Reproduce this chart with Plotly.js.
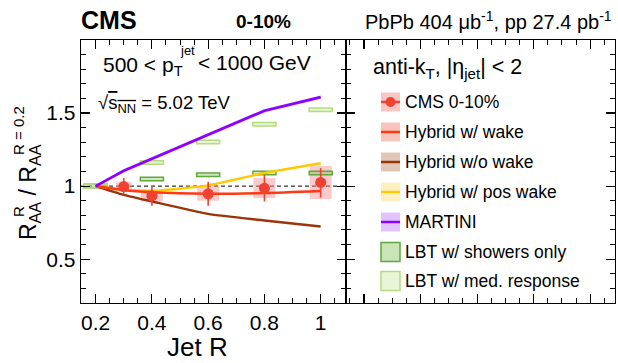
<!DOCTYPE html>
<html><head><meta charset="utf-8">
<script src="https://cdn.plot.ly/plotly-3.0.1.min.js"></script>
<style>body{margin:0;background:#fff}#chart{width:618px;height:363px}</style>
</head><body><div id="chart"></div>
<script>
// ---- data ----
const R_cms = [0.3, 0.4, 0.6, 0.8, 1.0];
const cms_val = [0.997, 0.934, 0.947, 0.986, 1.025];
const cms_stat_hi = [1.055, 0.997, 1.030, 1.077, 1.123];
const cms_stat_lo = [0.940, 0.865, 0.865, 0.895, 0.922];
const cms_sys_hi = [1.030, 0.975, 1.002, 1.055, 1.139];
const cms_sys_lo = [0.963, 0.895, 0.900, 0.918, 0.911];
const cms_sys_width = [0.056, 0.078, 0.078, 0.078, 0.078];

const R_model = [0.2, 0.3, 0.4, 0.6, 0.8, 1.0];
const hybrid_wake = [1.0, 0.972, 0.958, 0.948, 0.953, 0.967];
const hybrid_nowake = [1.0, 0.940, 0.895, 0.810, 0.765, 0.723];
const hybrid_poswake = [1.0, 0.975, 0.968, 1.005, 1.090, 1.157];
const martini = [1.0, 1.105, 1.187, 1.351, 1.516, 1.609];
const martini_unc = [0.0, 0.010, 0.012, 0.012, 0.012, 0.012];

const R_lbt = [0.2, 0.4, 0.6, 0.8, 1.0];
const lbt_showers = [1.0, 1.048, 1.077, 1.089, 1.089];
const lbt_medresp = [1.0, 1.162, 1.302, 1.424, 1.523];
const lbt_unc = [0.012, 0.012, 0.012, 0.012, 0.012];
const lbt_width = 0.082;

const xTicks = [0.2, 0.4, 0.6, 0.8, 1.0];
const xTickText = ['0.2', '0.4', '0.6', '0.8', '1'];
const yTicks = [0.5, 1.0, 1.5];
const yTickText = ['0.5', '1', '1.5'];

// ---- helpers ----
const W = 618, H = 363;
const FONT = 'Liberation Sans, Arial, Helvetica, sans-serif';
const px = x => x / W, py = y => 1 - y / H;

const traces = [];
// CMS systematic boxes
traces.push({type: 'bar', x: R_cms, base: cms_sys_lo,
  y: cms_sys_hi.map((h, i) => h - cms_sys_lo[i]), width: cms_sys_width,
  marker: {color: 'rgba(245,140,140,0.45)', line: {width: 0}},
  xaxis: 'x', yaxis: 'y', hoverinfo: 'skip', showlegend: false});
// MARTINI band
traces.push({type: 'scatter', mode: 'lines', x: R_model, y: martini.map((v, i) => v + martini_unc[i]),
  line: {width: 0, color: 'rgba(0,0,0,0)'}, showlegend: false, hoverinfo: 'skip'});
traces.push({type: 'scatter', mode: 'lines', x: R_model, y: martini.map((v, i) => v - martini_unc[i]),
  fill: 'tonexty', fillcolor: 'rgba(190,130,255,0.45)',
  line: {width: 0, color: 'rgba(0,0,0,0)'}, showlegend: false, hoverinfo: 'skip'});
// model lines
const lineDefs = [
  [hybrid_nowake, '#9b3508', 2.5, 'spline'],
  [hybrid_poswake, '#ffc800', 2.5, 'spline'],
  [hybrid_wake, '#ff3a12', 2.5, 'spline'],
  [martini, '#8c00ff', 2.8, 'linear']
];
lineDefs.forEach(([y, c, w, s]) => traces.push({type: 'scatter', mode: 'lines', x: R_model, y: y,
  line: {color: c, width: w, shape: s, smoothing: 0.6}, showlegend: false, hoverinfo: 'skip'}));
// LBT boxes
traces.push({type: 'bar', x: R_lbt, base: lbt_showers.map((v, i) => v - lbt_unc[i]),
  y: lbt_unc.map(u => 2 * u), width: lbt_width,
  marker: {color: 'rgba(120,190,90,0.35)', line: {color: '#5fa83a', width: 1.5}},
  showlegend: false, hoverinfo: 'skip'});
traces.push({type: 'bar', x: R_lbt, base: lbt_medresp.map((v, i) => v - lbt_unc[i]),
  y: lbt_unc.map(u => 2 * u), width: lbt_width,
  marker: {color: 'rgba(200,235,160,0.45)', line: {color: '#b4dc7c', width: 1.5}},
  showlegend: false, hoverinfo: 'skip'});
// CMS points
traces.push({type: 'scatter', mode: 'markers', x: R_cms, y: cms_val,
  marker: {color: '#f04232', size: 11},
  error_y: {type: 'data', symmetric: false,
    array: cms_stat_hi.map((h, i) => h - cms_val[i]),
    arrayminus: cms_val.map((v, i) => v - cms_stat_lo[i]),
    color: '#f04232', thickness: 1.6, width: 0},
  showlegend: false, hoverinfo: 'skip'});

const axCommon = {showline: true, linecolor: '#000', linewidth: 1.3, mirror: 'ticks',
  ticks: 'inside', ticklen: 9, tickwidth: 1.2, tickcolor: '#000', showgrid: false, zeroline: false,
  tickfont: {family: FONT, size: 21, color: '#000'}, automargin: false, fixedrange: true};

const layout = {
  width: W, height: H, margin: {l: 0, r: 0, t: 0, b: 0},
  paper_bgcolor: '#fff', plot_bgcolor: '#fff', barmode: 'overlay', showlegend: false,
  font: {family: FONT, color: '#000'},
  xaxis: Object.assign({}, axCommon, {domain: [px(81), px(346)], range: [0.148, 1.09], anchor: 'y',
    tickmode: 'array', tickvals: xTicks, ticktext: xTickText,
    minor: {ticks: 'inside', ticklen: 5, tickwidth: 1, tickcolor: '#000', dtick: 0.05, tick0: 0}}),
  yaxis: Object.assign({}, axCommon, {domain: [py(303), py(40)], range: [0.2, 2.0], anchor: 'x',
    tickmode: 'array', tickvals: yTicks, ticktext: yTickText,
    minor: {ticks: 'inside', ticklen: 5, tickwidth: 1, tickcolor: '#000', dtick: 0.1, tick0: 0}}),
  xaxis2: Object.assign({}, axCommon, {domain: [px(346), px(615)], range: [0.136, 1.088], anchor: 'y2',
    showticklabels: false, tickmode: 'linear', dtick: 0.2, tick0: 0,
    minor: {ticks: 'inside', ticklen: 5, tickwidth: 1, tickcolor: '#000', dtick: 0.05, tick0: 0}}),
  yaxis2: Object.assign({}, axCommon, {domain: [py(303), py(40)], range: [0.2, 2.0], anchor: 'x2',
    showticklabels: false, tickmode: 'linear', dtick: 0.5, tick0: 0,
    minor: {ticks: 'inside', ticklen: 5, tickwidth: 1, tickcolor: '#000', dtick: 0.1, tick0: 0}}),
  shapes: [
    {type: 'line', xref: 'x domain', yref: 'y', x0: 0, x1: 1, y0: 1, y1: 1,
     line: {color: '#000', width: 1, dash: '4px,3px'}, layer: 'below'}
  ],
  annotations: []
};

// invisible trace so the second (legend) panel's axes are drawn
traces.push({type: 'scatter', mode: 'markers', x: [0.5], y: [1], xaxis: 'x2', yaxis: 'y2',
  marker: {opacity: 0}, showlegend: false, hoverinfo: 'skip'});

function ann(text, x, y, size, opts) {
  layout.annotations.push(Object.assign({text: text, xref: 'paper', yref: 'paper', x: px(x), y: py(y),
    showarrow: false, xanchor: 'left', yanchor: 'middle', font: {family: FONT, size: size, color: '#000'}}, opts || {}));
}
ann('<b>CMS</b>', 79, 20, 25);
ann('<b>0-10%</b>', 263, 22, 19, {xanchor: 'center'});
ann('PbPb 404 μb<sup>-1</sup>, pp 27.4 pb<sup>-1</sup>', 614, 20, 20, {xanchor: 'right'});
ann('500 < p<sub>T</sub>', 101, 66, 21);
ann('jet', 178, 51, 13);
ann('< 1000 GeV', 196, 63, 21);
ann('√<span style="text-decoration:overline">s<sub>NN</sub></span> = 5.02 TeV', 96, 104, 18.5);
ann('Jet R', 197, 347, 26, {xanchor: 'center'});
ann('R<sub>AA</sub> / R<sub>AA</sub>', 29, 192, 23, {xanchor: 'center', textangle: -90});
ann('R', 18, 212, 15, {xanchor: 'center', textangle: -90});
ann('R = 0.2', 18, 131, 15, {xanchor: 'center', textangle: -90});
ann('anti-k<sub>T</sub>, |η<sub>jet</sub>| < 2', 371, 68, 21.5);

// legend
const legRows = [
  ['CMS 0-10%', '#f8c6c4', '#f04232', true, null],
  ['Hybrid w/ wake', '#f9c4bc', '#ff3a12', false, null],
  ['Hybrid w/o wake', '#e2c6b8', '#9b3508', false, null],
  ['Hybrid w/ pos wake', '#fff0c0', '#ffc800', false, null],
  ['MARTINI', '#e2c2ff', '#8c00ff', false, null],
  ['LBT w/ showers only', '#c9e4b9', null, false, '#5fa83a'],
  ['LBT w/ med. response', '#e8f5d6', null, false, '#b4dc7c']
];
const legY = [102, 132, 162, 192, 222, 252, 281];
legRows.forEach((r, i) => {
  const yc = legY[i];
  layout.shapes.push({type: 'rect', xref: 'paper', yref: 'paper', x0: px(381), x1: px(400),
    y0: py(yc + 9.5), y1: py(yc - 9.5), fillcolor: r[1],
    line: {color: r[4] || r[1], width: r[4] ? 1.5 : 0}});
  if (r[2]) layout.shapes.push({type: 'line', xref: 'paper', yref: 'paper', x0: px(381), x1: px(400),
    y0: py(yc), y1: py(yc), line: {color: r[2], width: 2.5}});
  if (r[3]) layout.shapes.push({type: 'circle', xref: 'paper', yref: 'paper', x0: px(385.5), x1: px(395.5),
    y0: py(yc + 5), y1: py(yc - 5), fillcolor: r[2], line: {width: 0}});
  ann(r[0], 403, yc, 17.5);
});

Plotly.newPlot('chart', traces, layout, {displayModeBar: false, staticPlot: true});
</script></body></html>
